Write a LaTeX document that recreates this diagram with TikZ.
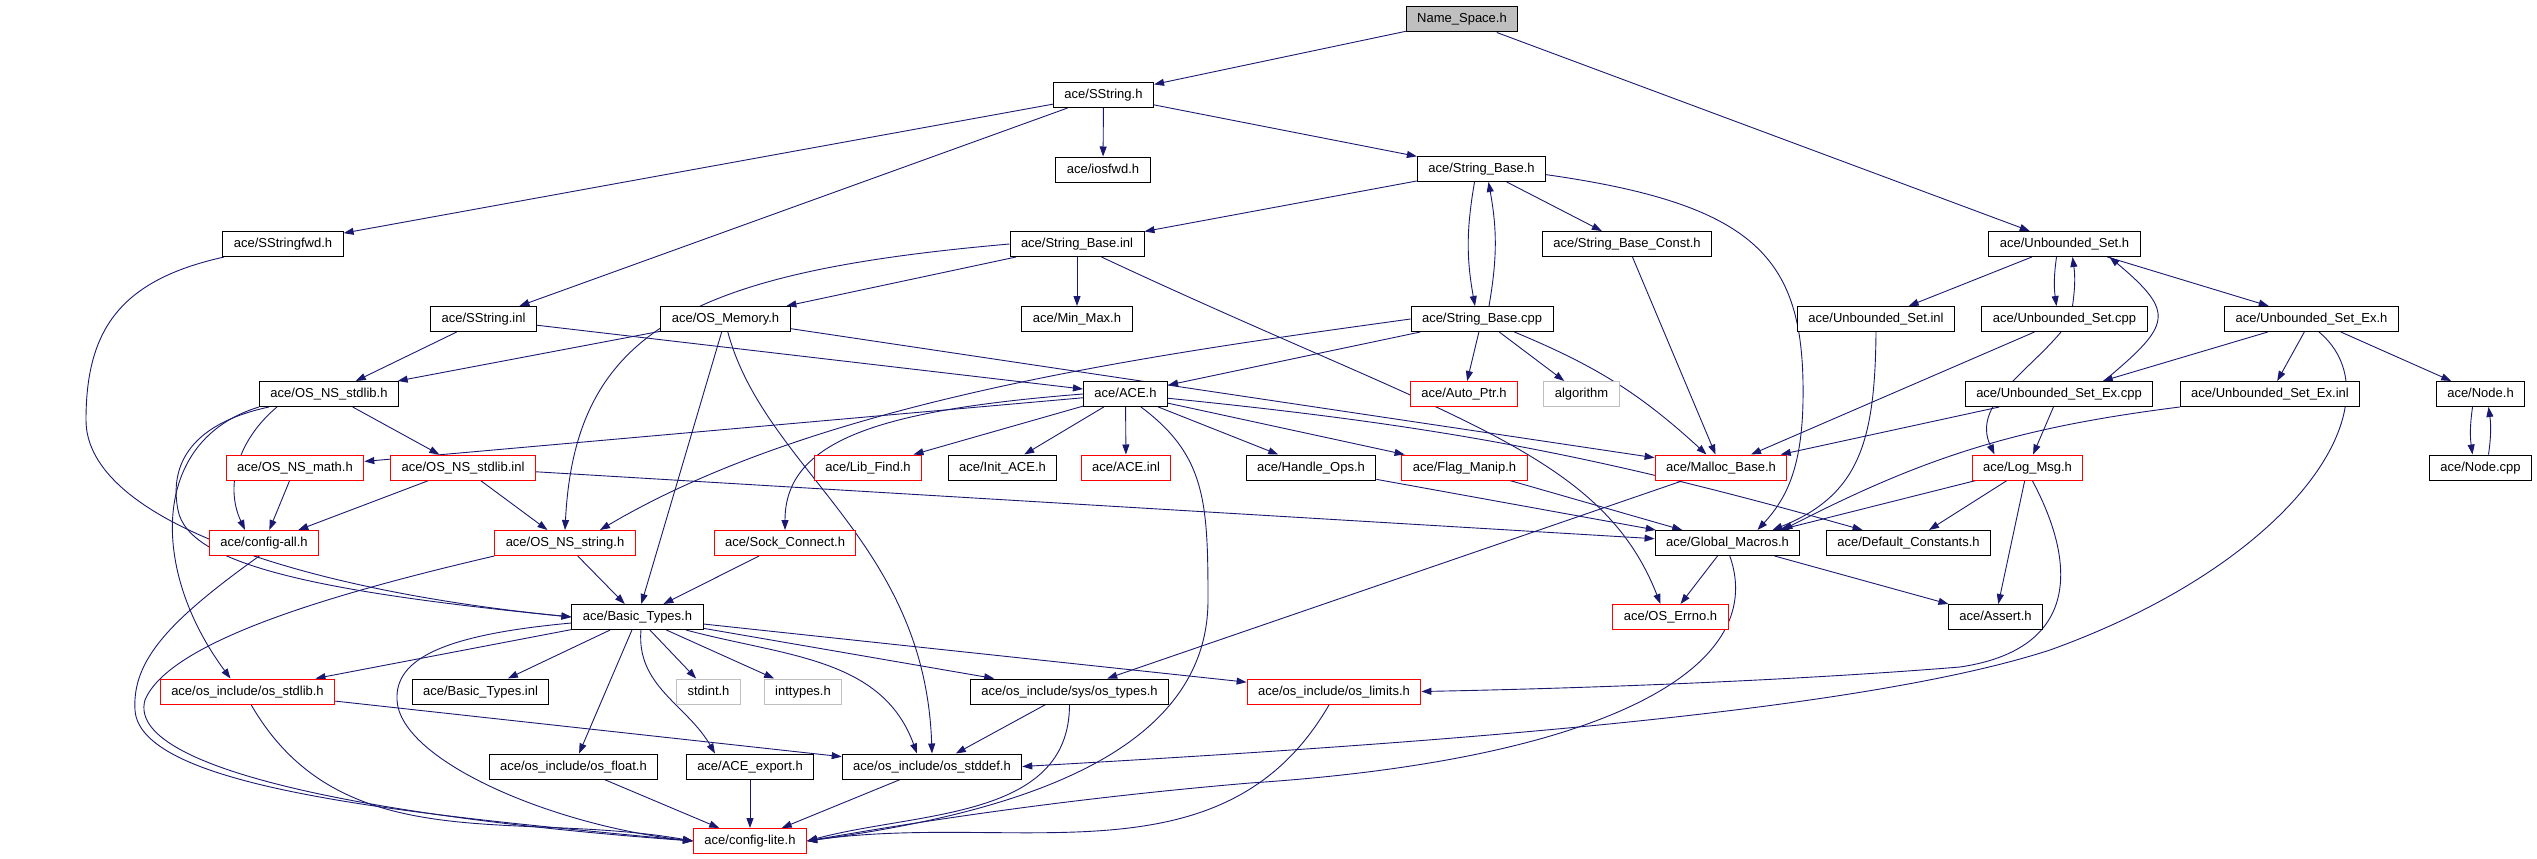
\documentclass[tikz,border=0pt]{standalone}
\usepackage{fontspec}
\setmainfont{Liberation Sans}
\usepackage{tikz}
\usetikzlibrary{arrows.meta,backgrounds}
\definecolor{edgeblue}{RGB}{25,25,112}
\definecolor{rootgray}{RGB}{191,191,191}
\definecolor{sysgray}{RGB}{191,191,191}

\begin{document}
\begin{tikzpicture}[
    x=1pt, y=-1pt,
    >={Triangle[length=10pt,width=7pt]},
    header/.style={
		rectangle,
		draw=black,
		line width=1pt,
		fill=white,
		text centered,
		inner xsep=11pt,
		inner ysep=0pt,
		minimum height=25pt,
		text height=9.5pt,
		text depth=2.5pt,
		font=\fontsize{13}{15}\selectfont
	},
	broken/.style={
		header,
		draw=red
	},
	stdhdr/.style={
		header,
		draw=sysgray
	},
	current/.style={
		header,
		fill=rootgray
	},
	link/.style={
		->,
		draw=edgeblue,
		line width=0.9pt
	}
  ]

 \useasboundingbox (0,0) rectangle (2537,859);

% // top rows
 \node [current] (ns) at (1462,19.5) {Name\_Space.h};
 \node [header] (sstr) at (1103.5,95) {ace/SString.h};
 \node [header] (iosfwd) at (1103,169.5) {ace/iosfwd.h};
 \node [header] (sbase) at (1481.5,169) {ace/String\_Base.h};

 \node [header] (sfwd) at (283,244) {ace/SStringfwd.h};
 \node [header] (sbinl) at (1077,244) {ace/String\_Base.inl};
 \node [header] (sbconst) at (1627,244) {ace/String\_Base\_Const.h};
 \node [header] (uset) at (2064.5,244) {ace/Unbounded\_Set.h};

 \node [header] (sinl) at (483.5,319) {ace/SString.inl};
 \node [header] (osmem) at (725.5,319) {ace/OS\_Memory.h};
 \node [header] (minmax) at (1077,319) {ace/Min\_Max.h};
 \node [header] (sbcpp) at (1482,319) {ace/String\_Base.cpp};
 \node [header] (usinl) at (1876,319) {ace/Unbounded\_Set.inl};
 \node [header] (uscpp) at (2064.5,319) {ace/Unbounded\_Set.cpp};
 \node [header] (usexh) at (2311.5,319) {ace/Unbounded\_Set\_Ex.h};

 \node [header] (nsstdlib) at (329,394) {ace/OS\_NS\_stdlib.h};
 \node [header] (ace) at (1125.5,394) {ace/ACE.h};
 \node [broken] (autoptr) at (1464,394) {ace/Auto\_Ptr.h};
 \node [stdhdr] (algo) at (1581.5,394) {algorithm};
 \node [header] (usexcpp) at (2059,394) {ace/Unbounded\_Set\_Ex.cpp};
 \node [header] (usexinl) at (2270,394) {ace/Unbounded\_Set\_Ex.inl};
 \node [header] (nodeh) at (2480.5,394) {ace/Node.h};

% // middle rows
 \node [broken] (nsmath) at (295,467.5) {ace/OS\_NS\_math.h};
 \node [broken] (nsstdlibinl) at (463,467.5) {ace/OS\_NS\_stdlib.inl};
 \node [broken] (libfind) at (868,467.5) {ace/Lib\_Find.h};
 \node [header] (initace) at (1002.5,467.5) {ace/Init\_ACE.h};
 \node [broken] (aceinl) at (1126,467.5) {ace/ACE.inl};
 \node [header] (handleops) at (1311,467.5) {ace/Handle\_Ops.h};
 \node [broken] (flagmanip) at (1464.5,467.5) {ace/Flag\_Manip.h};
 \node [broken] (mallocbase) at (1721,467.5) {ace/Malloc\_Base.h};
 \node [broken] (logmsg) at (2027.5,467.5) {ace/Log\_Msg.h};
 \node [header] (nodecpp) at (2480.5,467.5) {ace/Node.cpp};

 \node [broken] (configall) at (264,543) {ace/config-all.h};
 \node [broken] (nsstring) at (565,543) {ace/OS\_NS\_string.h};
 \node [broken] (sockconn) at (785,543) {ace/Sock\_Connect.h};
 \node [header] (globalmac) at (1727.5,543) {ace/Global\_Macros.h};
 \node [header] (defconst) at (1908.5,543) {ace/Default\_Constants.h};

 \node [header] (basictypes) at (637.5,617) {ace/Basic\_Types.h};
 \node [broken] (oserrno) at (1670.5,617) {ace/OS\_Errno.h};
 \node [header] (assert) at (1995.5,617) {ace/Assert.h};

% // bottom rows
 \node [broken] (osstdlib) at (247.5,691.5) {ace/os\_include/os\_stdlib.h};
 \node [header] (btinl) at (480.5,691.5) {ace/Basic\_Types.inl};
 \node [stdhdr] (stdint) at (708.5,691.5) {stdint.h};
 \node [stdhdr] (inttypes) at (803,691.5) {inttypes.h};
 \node [header] (systypes) at (1069.5,691.5) {ace/os\_include/sys/os\_types.h};
 \node [broken] (oslimits) at (1334,691.5) {ace/os\_include/os\_limits.h};

 \node [header] (osfloat) at (573.5,766.5) {ace/os\_include/os\_float.h};
 \node [header] (aceexport) at (750,766.5) {ace/ACE\_export.h};
 \node [header] (osstddef) at (932,766.5) {ace/os\_include/os\_stddef.h};

 \node [broken] (configlite) at (750,841) {ace/config-lite.h};

\begin{scope}[on background layer]
% // SString side
 \draw [link] (ns) -- (sstr);
 \draw [link] (ns) -- (uset);
 \draw [link] (sstr) -- (sfwd);
 \draw [link] (sstr) -- (sinl);
 \draw [link] (sstr) -- (iosfwd);
 \draw [link] (sstr) -- (sbase);
 \draw [link] (sfwd) .. controls (120,280) and (86,330) .. (86,420) .. controls (86,520) and (300,590) .. (basictypes.west);
 \draw [link] (sinl) -- (nsstdlib);
 \draw [link] (sinl) -- (ace);

 \draw [link] (sbase) -- (sbinl);
 \draw [link] ([xshift=-7]sbase.south) to [bend right=10] ([xshift=-7]sbcpp.north);
 \draw [link] ([xshift=7]sbcpp.north) to [bend right=10] ([xshift=7]sbase.south);
 \draw [link] (sbase) -- (sbconst);
 \draw [link] (sbase.-5) .. controls (1760,205) and (1805,260) .. (1803,400) .. controls (1802,470) and (1785,500) .. ([xshift=30]globalmac.north);

 \draw [link] (sbcpp) -- (autoptr);
 \draw [link] (sbcpp) -- (algo);
 \draw [link] (sbcpp) to [bend left=10] (mallocbase);
 \draw [link] (sbcpp) -- (ace);
 \draw [link] (sbcpp.west) .. controls (1150,355) and (820,400) .. ([xshift=35]nsstring.north);
 \draw [link] (sbconst) -- (mallocbase);

 \draw [link] (sbinl) -- (osmem);
 \draw [link] (sbinl) -- (minmax);
 \draw [link] (sbinl.west) .. controls (690,272) and (575,330) .. (nsstring.north);
 \draw [link] (sbinl.-28) .. controls (1450,420) and (1600,450) .. ([xshift=-10]oserrno.north);

 \draw [link] (osmem) -- (nsstdlib);
 \draw [link] (osmem) -- (mallocbase);
 \draw [link] (osmem) -- (basictypes);
 \draw [link] (osmem.-80) .. controls (765,470) and (925,540) .. (osstddef.north);

% // OS_NS part
 \draw [link] (nsstdlib) -- (nsstdlibinl);
 \draw [link] ([xshift=18]nsstdlib.south west) to [out=-140,in=115] ([xshift=-19]configall.north);
 \draw [link] ([xshift=10]nsstdlib.south west) .. controls (185,425) and (170,470) .. (178,510) .. controls (188,565) and (320,592) .. (basictypes.west);
 \draw [link] (nsstdlib.south west) .. controls (150,440) and (150,570) .. ([xshift=-17]osstdlib.north);
 \draw [link] (nsstdlibinl) -- (configall);
 \draw [link] (nsstdlibinl) -- (nsstring);
 \draw [link] (nsstdlibinl) -- (globalmac);
 \draw [link] (nsmath) -- (configall);
 \draw [link] (configall.-110) .. controls (170,620) and (132,660) .. (135,710) .. controls (140,790) and (420,815) .. (configlite.west);
 \draw [link] (nsstring.south west) .. controls (340,592) and (170,640) .. (145,700) .. controls (125,770) and (380,818) .. (configlite.west);
 \draw [link] (nsstring) -- (basictypes);

% // ACE.h
 \draw [link] (ace) -- (nsmath);
 \draw [link] (ace.west) .. controls (880,410) and (785,440) .. (sockconn.north);
 \draw [link] (ace) -- (libfind);
 \draw [link] (ace) -- (initace);
 \draw [link] (ace) -- (aceinl);
 \draw [link] (ace) -- (handleops);
 \draw [link] (ace) -- (flagmanip);
 \draw [link] (ace) to [bend left=5] (defconst);
 \draw [link] (ace.-40) .. controls (1205,455) and (1208,500) .. (1208,600) .. controls (1208,760) and (1000,815) .. (configlite.east);
 \draw [link] (sockconn) -- (basictypes);
 \draw [link] (handleops) -- (globalmac);
 \draw [link] (flagmanip) -- (globalmac);
 \draw [link] (mallocbase) -- (systypes);
 \draw [link] (globalmac) -- (oserrno);
 \draw [link] (globalmac) -- (assert);
 \draw [link] (globalmac.-80) .. controls (1770,670) and (1600,760) .. (1250,783) .. controls (1050,800) and (900,825) .. (configlite.east);

% // Basic_Types.h
 \draw [link] (basictypes) -- (osstdlib);
 \draw [link] (basictypes) -- (btinl);
 \draw [link] (basictypes) -- (stdint);
 \draw [link] (basictypes) -- (inttypes);
 \draw [link] (basictypes) -- (systypes);
 \draw [link] (basictypes) -- (oslimits);
 \draw [link] (basictypes) -- (osfloat);
 \draw [link] (basictypes.-75) to [out=-95,in=120] ([xshift=-35]aceexport.north);
 \draw [link] (basictypes.-15) to [out=-15,in=110] ([xshift=-15]osstddef.north);
 \draw [link] ([yshift=-6]basictypes.west) .. controls (440,635) and (395,660) .. (397,700) .. controls (400,760) and (550,825) .. (configlite.west);
 \draw [link] (osstdlib) -- (osstddef);
 \draw [link] (osstdlib.-75) to [out=-60,in=170] (configlite.west);
 \draw [link] (systypes) -- (osstddef);
 \draw [link] (systypes.south) to [out=-90,in=15] (configlite.east);
 \draw [link] (oslimits.-110) to [out=-120,in=8] (configlite.east);
 \draw [link] (osfloat) -- (configlite);
 \draw [link] (aceexport) -- (configlite);
 \draw [link] (osstddef) -- (configlite);

% // Unbounded_Set side
 \draw [link] (uset) -- (usinl);
 \draw [link] ([xshift=-8]uset.south) to [bend right=8] ([xshift=-8]uscpp.north);
 \draw [link] ([xshift=8]uscpp.north) to [bend right=8] ([xshift=8]uset.south);
 \draw [link] (uset) -- (usexh);
 \draw [link] (uscpp) -- (mallocbase);
 \draw [link] (uscpp.-105) to [out=-130,in=115] ([xshift=-33]logmsg.north);
 \draw [link] (usinl.south) .. controls (1875,440) and (1860,495) .. ([xshift=45]globalmac.north);
 \draw [link] (usexh) -- (usexcpp);
 \draw [link] (usexh) -- (usexinl);
 \draw [link] (usexh) -- (nodeh);
 \draw [link] (usexh.-60) .. controls (2400,400) and (2300,560) .. (2050,650) .. controls (1850,715) and (1400,745) .. (osstddef.east);
 \draw [link] ([xshift=45]usexcpp.north) to [out=40,in=-40,looseness=1.8] ([xshift=45]uset.south);
 \draw [link] (usexcpp) -- (mallocbase);
 \draw [link] (usexcpp) -- (logmsg);
 \draw [link] (usexinl.south west) to [bend right=10] ([xshift=55]globalmac.north);
 \draw [link] ([xshift=-8]nodeh.south) to [bend right=8] ([xshift=-8]nodecpp.north);
 \draw [link] ([xshift=8]nodecpp.north) to [bend right=8] ([xshift=8]nodeh.south);
 \draw [link] (logmsg) -- (globalmac);
 \draw [link] (logmsg) -- (defconst);
 \draw [link] (logmsg) -- (assert);
 \draw [link] (logmsg.-70) .. controls (2080,570) and (2075,650) .. (1960,667) .. controls (1800,680) and (1600,688) .. (oslimits.east);
\end{scope}

\end{tikzpicture}
\end{document}
